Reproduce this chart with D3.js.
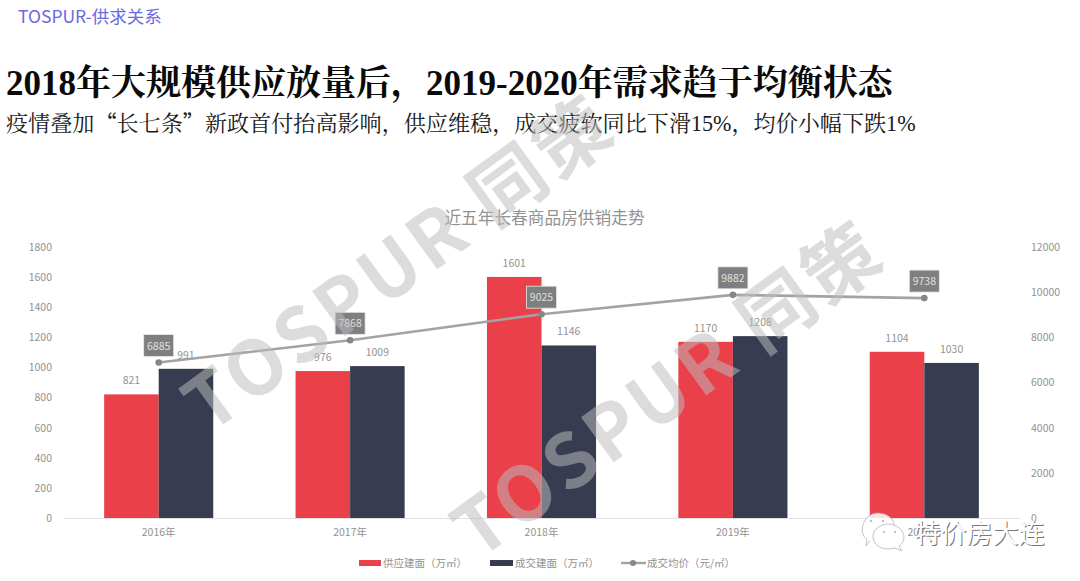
<!DOCTYPE html>
<html>
<head>
<meta charset="utf-8">
<script src="https://cdn.jsdelivr.net/npm/d3@7"></script>
<style>
  html, body { margin: 0; padding: 0; background: #fff; }
  svg { display: block; }
  text { font-family: "Noto Sans CJK SC", "Noto Sans", sans-serif; }
  .serif { font-family: "Liberation Serif", "Noto Serif CJK SC", serif; }
  .quote { font-family: "Noto Sans CJK SC", sans-serif; }
</style>
</head>
<body>
<div id="chart"></div>
<script>
var years = ['2016年', '2017年', '2018年', '2019年', '2020年'];
var supply = [821, 976, 1601, 1170, 1104];
var sold = [991, 1009, 1146, 1208, 1030];
var price = [6885, 7868, 9025, 9882, 9738];
var leftTicks = [0, 200, 400, 600, 800, 1000, 1200, 1400, 1600, 1800];
var rightTicks = [0, 2000, 4000, 6000, 8000, 10000, 12000];

var width = 1080, height = 581;
var margin = {left: 63, right: 60, top: 247, bottom: 63};
var red = '#e9404a', navy = '#373c51', labelGrey = '#929292';

var svg = d3.select('#chart').append('svg')
    .attr('width', width)
    .attr('height', height);

// scales
var x = d3.scaleBand()
    .domain(years)
    .range([margin.left, width - margin.right])
    .paddingInner(0.43)
    .paddingOuter(0.215);
var y = d3.scaleLinear()
    .domain([0, 1800])
    .range([height - margin.bottom, margin.top]);
var y2 = d3.scaleLinear()
    .domain([0, 12000])
    .range([height - margin.bottom, margin.top]);
var barW = x.bandwidth() / 2;

// headings
svg.append('text')
    .attr('x', 18).attr('y', 23)
    .attr('font-size', 17.5)
    .attr('fill', '#6b68e0')
    .text('TOSPUR-供求关系');
svg.append('text')
    .attr('class', 'serif')
    .attr('x', 6).attr('y', 95)
    .attr('font-size', 35)
    .attr('font-weight', 700)
    .attr('fill', '#0a0a0a')
    .text('2018年大规模供应放量后，2019-2020年需求趋于均衡状态');
var sub = svg.append('text')
    .attr('class', 'serif')
    .attr('x', 6).attr('y', 131)
    .attr('font-size', 22.1)
    .attr('fill', '#1a1a1a');
sub.append('tspan').text('疫情叠加');
sub.append('tspan').attr('class', 'quote').text('“');
sub.append('tspan').text('长七条');
sub.append('tspan').attr('class', 'quote').text('”');
sub.append('tspan').text('新政首付抬高影响，供应维稳，成交疲软同比下滑15%，均价小幅下跌1%');
svg.append('text')
    .attr('x', 544.5).attr('y', 224)
    .attr('text-anchor', 'middle')
    .attr('font-size', 16.7)
    .attr('fill', '#929292')
    .text('近五年长春商品房供销走势');

// bars
svg.append('g').selectAll('rect')
    .data(supply)
    .join('rect')
    .attr('x', function(d, i) { return x(years[i]); })
    .attr('y', function(d) { return y(d); })
    .attr('width', barW)
    .attr('height', function(d) { return y(0) - y(d); })
    .attr('fill', red);
svg.append('g').selectAll('rect')
    .data(sold)
    .join('rect')
    .attr('x', function(d, i) { return x(years[i]) + barW; })
    .attr('y', function(d) { return y(d); })
    .attr('width', barW)
    .attr('height', function(d) { return y(0) - y(d); })
    .attr('fill', navy);

// axes
var axisLeft = svg.append('g')
    .attr('transform', 'translate(' + margin.left + ',0)')
    .call(d3.axisLeft(y).tickValues(leftTicks).tickSize(0).tickPadding(11)
        .tickFormat(d3.format('d')));
var axisRight = svg.append('g')
    .attr('transform', 'translate(' + (width - margin.right) + ',0)')
    .call(d3.axisRight(y2).tickValues(rightTicks).tickSize(0).tickPadding(11)
        .tickFormat(d3.format('d')));
var axisBottom = svg.append('g')
    .attr('transform', 'translate(0,' + y(0) + ')')
    .call(d3.axisBottom(x).tickSize(0).tickPadding(11));
[axisLeft, axisRight].forEach(function(a) { a.select('.domain').remove(); });
axisBottom.select('.domain').attr('stroke', '#e2e2e2').attr('stroke-width', 1.2);
svg.selectAll('.tick text')
    .attr('font-size', 10.5)
    .attr('fill', labelGrey)
    .style('font-family', '"Noto Sans CJK SC", sans-serif');

// bar labels
svg.append('g').selectAll('text')
    .data(supply)
    .join('text')
    .attr('x', function(d, i) { return x(years[i]) + barW / 2; })
    .attr('y', function(d) { return y(d) - 10; })
    .attr('text-anchor', 'middle')
    .attr('font-size', 10.5)
    .attr('fill', labelGrey)
    .text(function(d) { return d; });
svg.append('g').selectAll('text')
    .data(sold)
    .join('text')
    .attr('x', function(d, i) { return x(years[i]) + barW * 1.5; })
    .attr('y', function(d) { return y(d) - 10; })
    .attr('text-anchor', 'middle')
    .attr('font-size', 10.5)
    .attr('fill', labelGrey)
    .text(function(d) { return d; });

// price line
var cx = function(i) { return x(years[i]) + barW; };
var line = d3.line()
    .x(function(d, i) { return cx(i); })
    .y(function(d) { return y2(d); });
svg.append('path')
    .attr('d', line(price))
    .attr('fill', 'none')
    .attr('stroke', '#a3a3a3')
    .attr('stroke-width', 2.6);
svg.append('g').selectAll('circle')
    .data(price)
    .join('circle')
    .attr('cx', function(d, i) { return cx(i); })
    .attr('cy', function(d) { return y2(d); })
    .attr('r', 3.3)
    .attr('fill', '#868686');

var priceLabel = svg.append('g').selectAll('g')
    .data(price)
    .join('g')
    .attr('transform', function(d, i) { return 'translate(' + cx(i) + ',' + (y2(d) - 6) + ')'; });
priceLabel.append('rect')
    .attr('x', -15).attr('y', -22)
    .attr('width', 30).attr('height', 22)
    .attr('fill', '#7f7f7f')
    .attr('stroke', '#e8e8e8')
    .attr('stroke-width', 0.8);
priceLabel.append('text')
    .attr('y', -7)
    .attr('text-anchor', 'middle')
    .attr('font-size', 10.5)
    .attr('fill', '#e0e0e0')
    .text(function(d) { return d; });

// legend
var legend = svg.append('g').attr('font-size', 10.5).attr('fill', labelGrey);
legend.append('rect').attr('x', 359).attr('y', 560).attr('width', 22).attr('height', 6).attr('fill', red);
legend.append('text').attr('x', 383).attr('y', 567).text('供应建面（万㎡）');
legend.append('rect').attr('x', 490).attr('y', 560).attr('width', 23).attr('height', 6).attr('fill', navy);
legend.append('text').attr('x', 515).attr('y', 567).text('成交建面（万㎡）');
legend.append('line').attr('x1', 621).attr('x2', 646).attr('y1', 563).attr('y2', 563)
    .attr('stroke', '#a3a3a3').attr('stroke-width', 2.4);
legend.append('circle').attr('cx', 633).attr('cy', 563).attr('r', 3).attr('fill', '#868686');
legend.append('text').attr('x', 647).attr('y', 567).text('成交均价（元/㎡）');

// TOSPUR watermarks over the chart
[[209, 435], [478, 561]].forEach(function(p) {
    svg.append('text')
        .attr('transform', 'translate(' + p[0] + ',' + p[1] + ') rotate(-36)')
        .attr('font-size', 75)
        .attr('font-weight', 700)
        .attr('letter-spacing', 4)
        .attr('fill', '#bcbcbc')
        .attr('fill-opacity', 0.52)
        .text('TOSPUR 同策');
});

// account mark, bottom right
var mark = svg.append('g').attr('fill', '#fff').attr('fill-opacity', 0.85)
    .attr('stroke', '#a8a8a8').attr('stroke-width', 0.7);
mark.append('path').attr('d', 'M870,541 L866,546 L867,539 C858,535 862,513 878,513 C890,513 896,522 894,529');
mark.append('path').attr('d', 'M899,546 L902,551 L895,548 C880,552 873,543 873,537 C873,529 881,524 888,524 C896,524 904,530 904,537 C904,541 902,544 899,546 Z');
var eyes = svg.append('g').attr('fill', '#b0b0b0');
eyes.append('circle').attr('cx', 871).attr('cy', 521).attr('r', 1.1);
eyes.append('circle').attr('cx', 883).attr('cy', 521).attr('r', 1.1);
eyes.append('circle').attr('cx', 884).attr('cy', 532).attr('r', 1);
eyes.append('circle').attr('cx', 895).attr('cy', 532).attr('r', 1);
svg.append('text')
    .attr('x', 915.5).attr('y', 544)
    .attr('font-size', 26)
    .attr('fill', '#777')
    .text('特价房大连');
svg.append('text')
    .attr('x', 914.5).attr('y', 543)
    .attr('font-size', 26)
    .attr('fill', '#fff')
    .text('特价房大连');
</script>
</body>
</html>
